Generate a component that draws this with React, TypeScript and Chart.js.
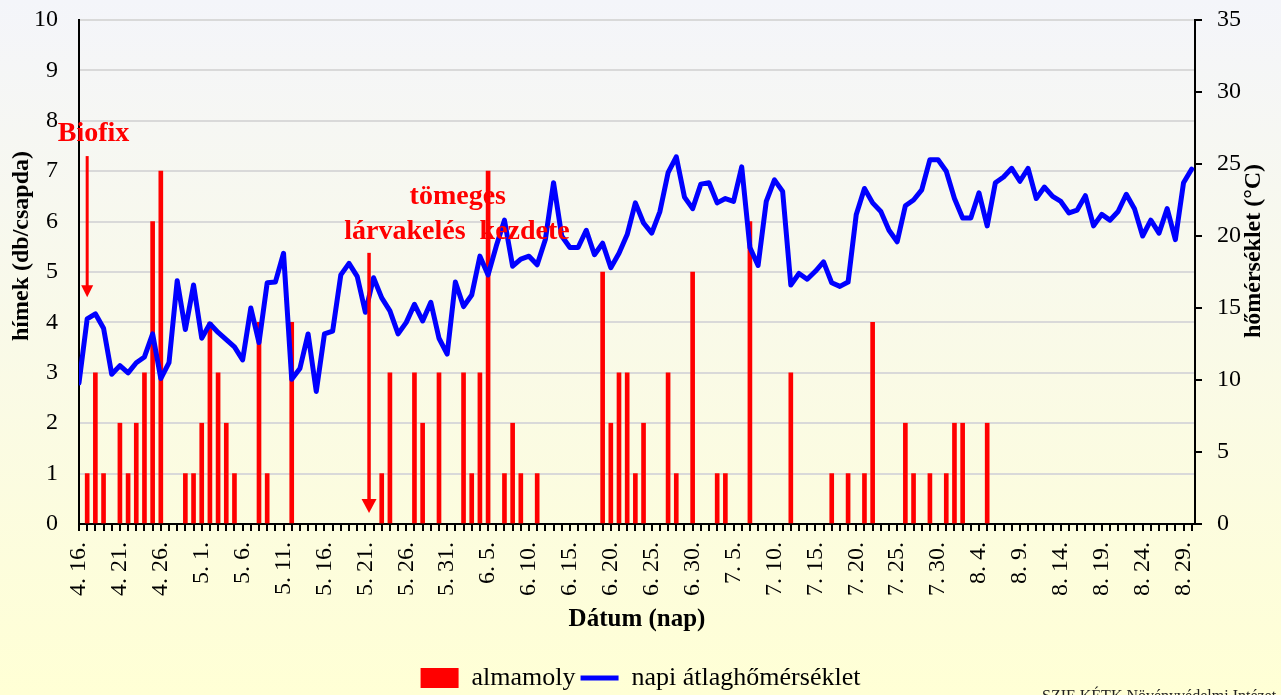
import React, { useEffect, useRef } from 'react';
import { Chart, registerables } from 'chart.js';

Chart.register(...registerables);

const SERIF = "'Liberation Serif', 'Times New Roman', serif";

// day index 0 = 4.16. ... 136 = 8.30.
const days: number[] = Array.from({ length: 137 }, (_, i) => i);

const tickLabels: string[] = [
  '4. 16.', '4. 21.', '4. 26.', '5. 1.', '5. 6.', '5. 11.', '5. 16.', '5. 21.', '5. 26.', '5. 31.',
  '6. 5.', '6. 10.', '6. 15.', '6. 20.', '6. 25.', '6. 30.', '7. 5.', '7. 10.', '7. 15.', '7. 20.',
  '7. 25.', '7. 30.', '8. 4.', '8. 9.', '8. 14.', '8. 19.', '8. 24.', '8. 29.',
];

// almamoly (hímek, db/csapda)
const mothCounts: number[] = [
  0, 1, 3, 1, 0, 2, 1, 2, 3, 6,
  7, 0, 0, 1, 1, 2, 4, 3, 2, 1,
  0, 0, 4, 1, 0, 0, 4, 0, 0, 0,
  0, 0, 0, 0, 0, 0, 0, 1, 3, 0,
  0, 3, 2, 0, 3, 0, 0, 3, 1, 3,
  7, 0, 1, 2, 1, 0, 1, 0, 0, 0,
  0, 0, 0, 0, 5, 2, 3, 3, 1, 2,
  0, 0, 3, 1, 0, 5, 0, 0, 1, 1,
  0, 0, 6, 0, 0, 0, 0, 3, 0, 0,
  0, 0, 1, 0, 1, 0, 1, 4, 0, 0,
  0, 2, 1, 0, 1, 0, 1, 2, 2, 0,
  0, 2, 0, 0, 0, 0, 0, 0, 0, 0,
  0, 0, 0, 0, 0, 0, 0, 0, 0, 0,
  0, 0, 0, 0, 0, 0, 0,
];

// napi átlaghőmérséklet (°C)
const dailyTemp: number[] = [
  9.8, 14.25, 14.6, 13.6, 10.4, 11.0, 10.5, 11.2, 11.6, 13.2,
  10.1, 11.2, 16.9, 13.5, 16.6, 12.9, 13.9, 13.3, 12.8, 12.3,
  11.4, 15.0, 12.6, 16.75, 16.8, 18.8, 10.05, 10.8, 13.2, 9.2,
  13.2, 13.4, 17.3, 18.1, 17.2, 14.7, 17.1, 15.7, 14.8, 13.2,
  14.0, 15.25, 14.1, 15.4, 12.9, 11.8, 16.8, 15.1, 15.9, 18.6,
  17.3, 19.3, 21.1, 17.9, 18.4, 18.6, 18.0, 19.75, 23.7, 20.0,
  19.2, 19.2, 20.4, 18.7, 19.5, 17.8, 18.8, 20.1, 22.3, 20.9,
  20.2, 21.7, 24.4, 25.5, 22.7, 21.9, 23.6, 23.7, 22.3, 22.6,
  22.4, 24.8, 19.2, 17.95, 22.4, 23.9, 23.1, 16.6, 17.4, 17.0,
  17.55, 18.2, 16.75, 16.5, 16.8, 21.5, 23.3, 22.3, 21.7, 20.4,
  19.6, 22.1, 22.5, 23.2, 25.3, 25.3, 24.5, 22.6, 21.25, 21.25,
  23.0, 20.7, 23.7, 24.1, 24.7, 23.8, 24.7, 22.6, 23.4, 22.75,
  22.4, 21.6, 21.8, 22.8, 20.7, 21.5, 21.1, 21.7, 22.9, 21.9,
  20.0, 21.1, 20.2, 21.9, 19.75, 23.7, 24.65,
];

function drawArrow(ctx: CanvasRenderingContext2D, x: number, yTop: number, yTip: number, lw: number, head: number, halfW: number) {
  ctx.beginPath();
  ctx.lineWidth = lw;
  ctx.moveTo(x, yTop);
  ctx.lineTo(x, yTip - head + 1);
  ctx.stroke();
  ctx.beginPath();
  ctx.moveTo(x, yTip);
  ctx.lineTo(x - halfW, yTip - head);
  ctx.lineTo(x + halfW, yTip - head);
  ctx.closePath();
  ctx.fill();
}

const bgPlugin = {
  id: 'bgGradient',
  beforeDraw(chart: any) {
    const { ctx, width, height } = chart;
    const g = ctx.createLinearGradient(0, 0, 0, 695);
    g.addColorStop(0, '#F4F5FA');
    g.addColorStop(1, '#FFFFD5');
    ctx.save();
    ctx.fillStyle = g;
    ctx.fillRect(0, 0, width, height);
    ctx.restore();
  },
};

const annotationPlugin = {
  id: 'annotations',
  afterDatasetsDraw(chart: any) {
    const { ctx } = chart;
    const x = chart.scales.x;
    const y = chart.scales.y;
    ctx.save();
    ctx.fillStyle = '#FF0000';
    ctx.strokeStyle = '#FF0000';
    ctx.textAlign = 'center';
    ctx.textBaseline = 'alphabetic';
    ctx.font = `bold 28px ${SERIF}`;
    ctx.fillText('Biofix', x.getPixelForValue(1.77), y.getPixelForValue(7.6));
    drawArrow(ctx, x.getPixelForValue(1), y.getPixelForValue(7.3), y.getPixelForValue(4.5), 3, 12, 6);
    drawArrow(ctx, x.getPixelForValue(35.45), y.getPixelForValue(5.38), y.getPixelForValue(0.22), 3.5, 14, 7.5);
    ctx.fillText('tömeges', x.getPixelForValue(46.3), y.getPixelForValue(6.35));
    ctx.fillText('lárvakelés  kezdete', x.getPixelForValue(46.2), y.getPixelForValue(5.65));
    ctx.restore();
  },
  afterDraw(chart: any) {
    const { ctx } = chart;
    ctx.save();
    ctx.fillStyle = '#000';
    ctx.font = `bold 24px ${SERIF}`;
    ctx.textAlign = 'center';
    ctx.textBaseline = 'middle';
    ctx.translate(22, 246);
    ctx.rotate(-Math.PI / 2);
    ctx.fillText('hímek (db/csapda)', 0, 0);
    ctx.restore();

    ctx.save();
    ctx.fillStyle = '#000';
    ctx.font = `bold 24px ${SERIF}`;
    ctx.textAlign = 'center';
    ctx.textBaseline = 'middle';
    ctx.translate(1254, 251);
    ctx.rotate(-Math.PI / 2);
    ctx.fillText('hőmérséklet (°C)', 0, 0);
    ctx.restore();

    ctx.save();
    ctx.fillStyle = '#222';
    ctx.font = `16px ${SERIF}`;
    ctx.textAlign = 'left';
    ctx.textBaseline = 'top';
    ctx.fillText('SZIE KÉTK Növényvédelmi Intézet', 1042, 689);
    ctx.restore();
  },
};

export default function App() {
  const canvasRef = useRef<HTMLCanvasElement | null>(null);

  useEffect(() => {
    const canvas = canvasRef.current;
    if (!canvas) return;

    const barData = days
      .map((d, i) => ({ x: d, y: mothCounts[i] }))
      .filter((p) => p.y > 0);
    const lineData = days.map((d, i) => ({ x: d, y: dailyTemp[i] }));

    const chart = new Chart(canvas, {
      type: 'line',
      data: {
        datasets: [
          {
            type: 'bar',
            label: 'almamoly',
            data: barData,
            backgroundColor: '#FF0000',
            borderWidth: 0,
            barThickness: 4,
            yAxisID: 'y',
            order: 2,
            pointStyle: 'rect',
          } as any,
          {
            type: 'line',
            label: 'napi átlaghőmérséklet',
            data: lineData,
            borderColor: '#0000FF',
            backgroundColor: '#0000FF',
            borderWidth: 5,
            pointRadius: 0,
            pointStyle: 'line',
            tension: 0,
            borderJoinStyle: 'round',
            borderCapStyle: 'round',
            fill: false,
            yAxisID: 'y2',
            order: 1,
          } as any,
        ],
      },
      options: {
        responsive: false,
        animation: false,
        events: [],
        layout: { padding: { top: 20, left: 0, right: 0, bottom: 0 } },
        plugins: {
          legend: {
            position: 'bottom',
            labels: {
              usePointStyle: true,
              pointStyleWidth: 38,
              boxHeight: 20,
              padding: 5,
              color: '#000',
              font: { family: SERIF, size: 26 },
              sort: (a: any, b: any) => a.datasetIndex - b.datasetIndex,
            },
          },
          tooltip: { enabled: false },
        },
        scales: {
          x: {
            type: 'linear',
            min: 0,
            max: 136.4,
            offset: false,
            afterFit: (s: any) => { s.height = 136; },
            grid: {
              display: true,
              drawOnChartArea: false,
              drawTicks: true,
              tickLength: 7,
              color: '#000',
              lineWidth: 2,
              offset: false,
            },
            border: { display: true, color: '#000', width: 2 },
            ticks: {
              stepSize: 1,
              autoSkip: false,
              includeBounds: false,
              minRotation: 90,
              maxRotation: 90,
              padding: 11,
              color: '#000',
              font: { family: SERIF, size: 24 },
              callback: (v: any) => {
                const n = Math.round(Number(v));
                return n % 5 === 0 && tickLabels[n / 5] !== undefined ? tickLabels[n / 5] : '';
              },
            },
            title: {
              display: true,
              text: 'Dátum (nap)',
              color: '#000',
              font: { family: SERIF, size: 25, weight: 'bold' },
              padding: { top: 0, bottom: 25 },
            },
          },
          y: {
            type: 'linear',
            position: 'left',
            min: 0,
            max: 10,
            afterFit: (s: any) => { s.width = 79; s.paddingTop = 0; s.paddingBottom = 0; },
            grid: {
              color: '#D9D9D9',
              lineWidth: 2,
              drawTicks: false,
            },
            border: { display: true, color: '#000', width: 2 },
            ticks: {
              stepSize: 1,
              padding: 21,
              color: '#000',
              font: { family: SERIF, size: 24 },
            },
          },
          y2: {
            type: 'linear',
            position: 'right',
            min: 0,
            max: 35,
            afterFit: (s: any) => { s.width = 86; s.paddingTop = 0; s.paddingBottom = 0; },
            grid: {
              display: true,
              drawOnChartArea: false,
              drawTicks: true,
              tickLength: 7,
              color: '#000',
              lineWidth: 2,
            },
            border: { display: true, color: '#000', width: 2 },
            ticks: {
              stepSize: 5,
              padding: 15,
              color: '#000',
              font: { family: SERIF, size: 24 },
            },
          },
        },
      } as any,
      plugins: [bgPlugin, annotationPlugin],
    });

    return () => chart.destroy();
  }, []);

  return (
    <div style={{ position: 'fixed', left: 0, top: 0, width: 1281, height: 701, overflow: 'hidden' }}>
      <canvas
        ref={canvasRef}
        width={1281}
        height={701}
        style={{ display: 'block', width: 1281, height: 701 }}
      />
    </div>
  );
}
